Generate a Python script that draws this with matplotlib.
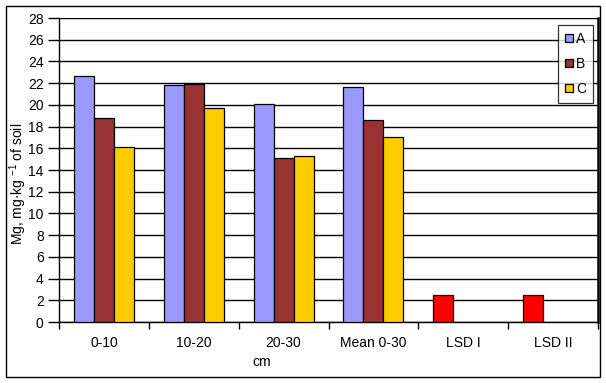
import numpy as np
import matplotlib.pyplot as plt
from matplotlib.patches import Rectangle

plt.rcParams['font.family'] = ['Liberation Sans', 'DejaVu Sans']
plt.rcParams['mathtext.fontset'] = 'custom'
plt.rcParams['mathtext.rm'] = 'Liberation Sans'
plt.rcParams['mathtext.default'] = 'regular'

categories = ['0-10', '10-20', '20-30', 'Mean 0-30', 'LSD I', 'LSD II']
a_vals = [22.7, 21.8, 20.1, 21.6]
b_vals = [18.75, 21.95, 15.15, 18.65]
c_vals = [16.15, 19.7, 15.25, 17.0]
lsd_vals = [2.5, 2.5]

W, H = 606, 383
fs = 10
fig = plt.figure(figsize=(W / 100, H / 100), dpi=100)
fig.patch.set_facecolor('white')

# plot area in pixels: left 59, right 598, top 18, bottom 322
ax = fig.add_axes([59 / W, (H - 322) / H, (598 - 59) / W, (322 - 18) / H])

w = 20 / 90
x = np.arange(4)
ax.bar(x - w, a_vals, w, color='#9999FF', edgecolor='black', linewidth=0.9, label='A', zorder=3)
ax.bar(x, b_vals, w, color='#993333', edgecolor='black', linewidth=0.9, label='B', zorder=3)
ax.bar(x + w, c_vals, w, color='#FFCC00', edgecolor='black', linewidth=0.9, label='C', zorder=3)
ax.bar(np.array([4, 5]) - w, lsd_vals, w, color='#FF0000', edgecolor='black', linewidth=0.9, zorder=3)

ax.set_xlim(-0.5, 5.5)
ax.set_ylim(0, 28)
ax.set_yticks(range(0, 29, 2))
ax.yaxis.grid(True, color='black', linewidth=1.0, zorder=0)
ax.set_axisbelow(True)

ax.set_xticks(np.arange(-0.5, 6, 1))
ax.set_xticklabels([])
ax.set_xticks(np.arange(6), minor=True)
ax.set_xticklabels(categories, minor=True, fontsize=fs)
ax.tick_params(axis='x', which='major', direction='out', length=5, width=1, color='black')
ax.tick_params(axis='x', which='minor', length=0, pad=10)
ax.tick_params(axis='y', direction='out', length=8, width=1, labelsize=fs, pad=3)

for s in ['left', 'bottom']:
    ax.spines[s].set_linewidth(1.0)
ax.spines['top'].set_visible(False)
ax.spines['right'].set_linewidth(1.8)

fig.text(18 / W, 1 - 184 / H, 'Mg, mg·kg $^{-1}$ of soil', rotation=90,
         ha='center', va='center', fontsize=fs)
fig.text(262 / W, 1 - 362 / H, 'cm', ha='center', va='center', fontsize=fs)

leg = ax.legend(loc='upper right', bbox_to_anchor=((593 - 59) / (598 - 59), 1 - 7 / 304),
                fontsize=fs, frameon=True, fancybox=False, edgecolor='black',
                handlelength=0.55, handleheight=0.55, handletextpad=0.25,
                labelspacing=0.8, borderpad=0.5, borderaxespad=0)
leg.get_frame().set_linewidth(0.9)
leg.set_zorder(5)

# chart area border
fig.patches.append(Rectangle((6 / W, (H - 377) / H), (600 - 6) / W, (377 - 6) / H,
                             transform=fig.transFigure, fill=False,
                             edgecolor='black', linewidth=1.0))

fig.savefig('out.png', dpi=100)
